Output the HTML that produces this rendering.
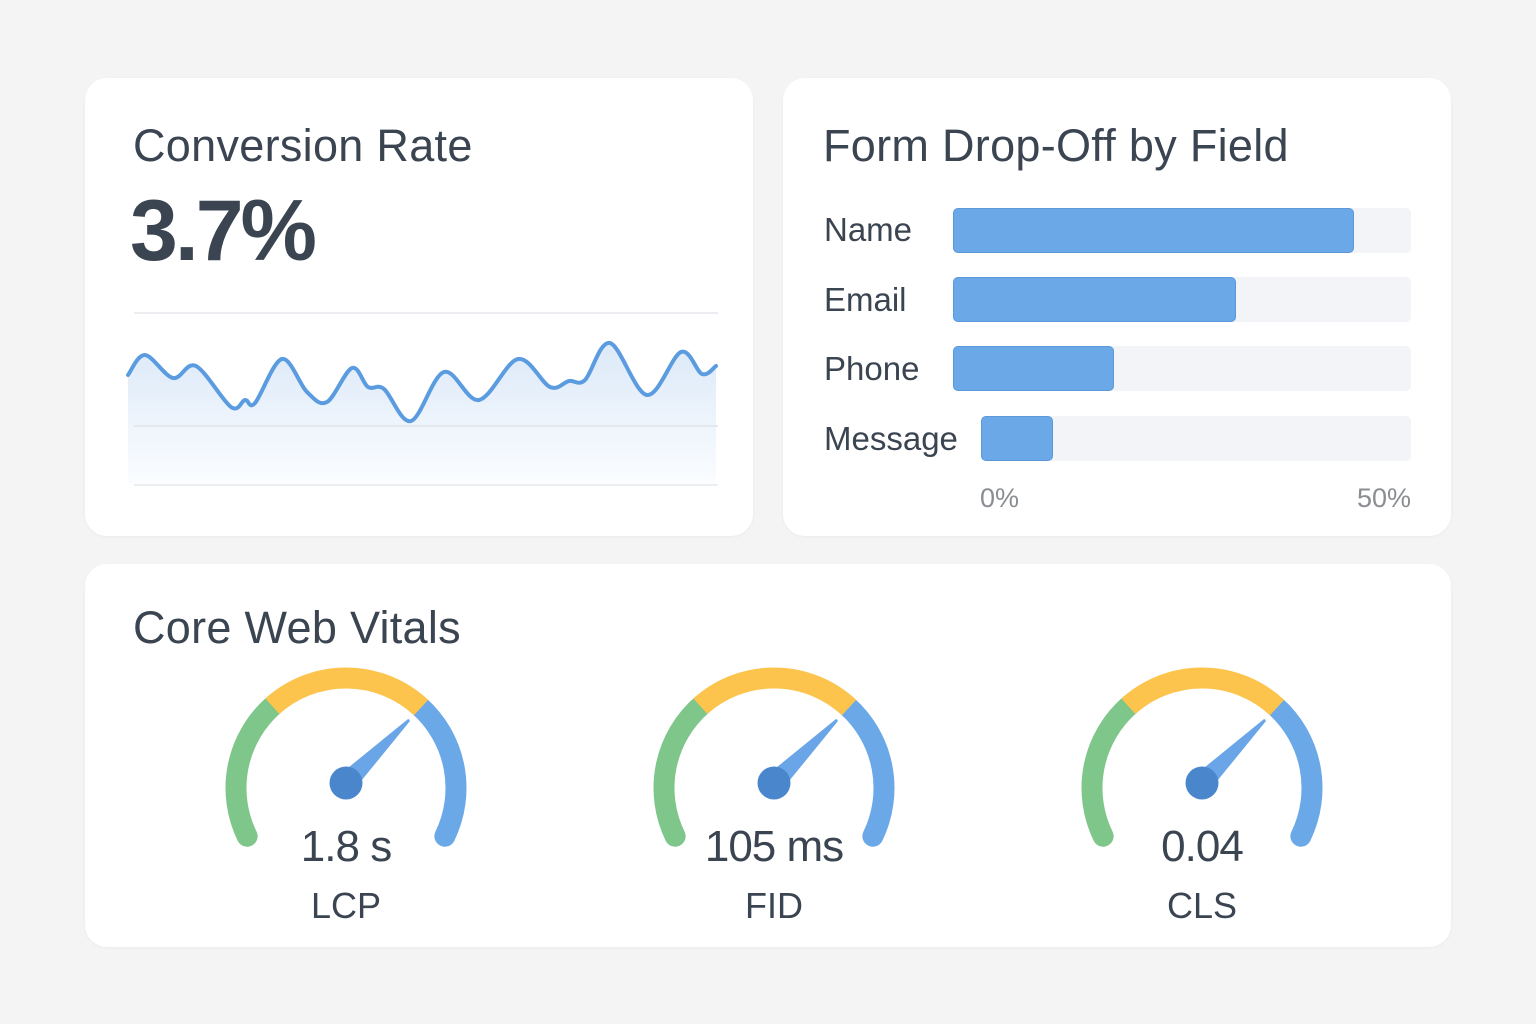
<!DOCTYPE html>
<html><head><meta charset="utf-8"><style>
body{margin:0;width:1536px;height:1024px;background:#f4f4f4;font-family:"Liberation Sans",sans-serif;color:#3b4451;position:relative;overflow:hidden}
.card{position:absolute;background:#fff;border-radius:22px;box-shadow:0 1px 3px rgba(0,0,0,0.04)}
.t{position:absolute;font-size:45px;white-space:nowrap;letter-spacing:0.3px}
.lbl{position:absolute;font-size:33px;left:824px}
.track{position:absolute;left:953px;width:458px;height:45px;background:#f3f4f7;border-radius:5px}
.bar{position:absolute;height:45px;background:#6aa8e8;border-radius:5px;border:1px solid #5b98da;box-sizing:border-box}
</style></head><body>
<div class="card" style="left:85px;top:78px;width:668px;height:458px"></div>
<div class="card" style="left:783px;top:78px;width:668px;height:458px"></div>
<div class="card" style="left:85px;top:564px;width:1366px;height:383px"></div>

<div class="t" style="left:133px;top:120px">Conversion Rate</div>
<div class="t" style="left:130px;top:182px;font-size:86px;font-weight:bold;letter-spacing:-3px">3.7%</div>

<svg style="position:absolute;left:0;top:0" width="1536" height="1024">
<defs><linearGradient id="g" x1="0" y1="0" x2="0" y2="1"><stop offset="0" stop-color="#dce9f8"/><stop offset="1" stop-color="#fbfdff"/></linearGradient></defs>
<line x1="134" y1="313" x2="718" y2="313" stroke="#eceef1" stroke-width="2"/>
<path id="fill" fill="url(#g)"/>
<line x1="134" y1="426" x2="718" y2="426" stroke="#e4e7ec" stroke-width="2"/>
<line x1="134" y1="485" x2="718" y2="485" stroke="#eceef1" stroke-width="2"/>
<path id="line" fill="none" stroke="#5b9be0" stroke-width="4" stroke-linecap="round"/>
<g id="gauges"></g>
</svg>

<div class="t" style="left:823px;top:120px">Form Drop-Off by Field</div>
<div class="lbl" style="top:211px">Name</div>
<div class="lbl" style="top:281px">Email</div>
<div class="lbl" style="top:350px">Phone</div>
<div class="lbl" style="top:420px">Message</div>
<div class="track" style="top:208px"></div><div class="bar" style="top:208px;left:953px;width:401px"></div>
<div class="track" style="top:277px"></div><div class="bar" style="top:277px;left:953px;width:283px"></div>
<div class="track" style="top:346px"></div><div class="bar" style="top:346px;left:953px;width:161px"></div>
<div class="track" style="top:416px;left:981px;width:430px"></div><div class="bar" style="top:416px;left:981px;width:72px"></div>
<div style="position:absolute;left:980px;top:483px;font-size:27px;color:#8a8d92">0%</div>
<div style="position:absolute;right:125px;top:483px;font-size:27px;color:#8a8d92">50%</div>

<div class="t" style="left:133px;top:602px">Core Web Vitals</div>
<div style="position:absolute;left:246px;width:200px;text-align:center;top:822px;font-size:44px;letter-spacing:-1px">1.8 s</div>
<div style="position:absolute;left:674px;width:200px;text-align:center;top:822px;font-size:44px;letter-spacing:-1px">105 ms</div>
<div style="position:absolute;left:1102px;width:200px;text-align:center;top:822px;font-size:44px;letter-spacing:-1px">0.04</div>
<div style="position:absolute;left:246px;width:200px;text-align:center;top:885px;font-size:36px">LCP</div>
<div style="position:absolute;left:674px;width:200px;text-align:center;top:885px;font-size:36px">FID</div>
<div style="position:absolute;left:1102px;width:200px;text-align:center;top:885px;font-size:36px">CLS</div>

<script>
var P=[[128,375],[145,355],[173,378],[196,366],[231,407],[245,400],[255,403],[282,359],[307,392],[327,402],[352,368],[368,387],[384,389],[411,421],[444,372],[479,400],[518,359],[550,387],[569,381],[585,380],[610,343],[647,395],[681,352],[702,374],[716,366]];
var d="M"+P[0][0]+","+P[0][1];
for(var i=0;i<P.length-1;i++){var p0=P[Math.max(i-1,0)],p1=P[i],p2=P[i+1],p3=P[Math.min(i+2,P.length-1)];
d+=" C"+(p1[0]+(p2[0]-p0[0])/6)+","+(p1[1]+(p2[1]-p0[1])/6)+" "+(p2[0]-(p3[0]-p1[0])/6)+","+(p2[1]-(p3[1]-p1[1])/6)+" "+p2[0]+","+p2[1];}
document.getElementById("line").setAttribute("d",d);
document.getElementById("fill").setAttribute("d",d+" L716,485 L128,485 Z");
function pt(cx,cy,r,a){a=a*Math.PI/180;return [cx+r*Math.cos(a),cy-r*Math.sin(a)];}
function arc(cx,cy,r,a1,a2,c,cap){var s=pt(cx,cy,r,a1),e=pt(cx,cy,r,a2);
return '<path d="M'+s[0]+','+s[1]+' A'+r+','+r+' 0 0 1 '+e[0]+','+e[1]+'" fill="none" stroke="'+c+'" stroke-width="21" stroke-linecap="'+cap+'"/>';}
var h="";[346,774,1202].forEach(function(cx){var cy=788,r=110;
h+=arc(cx,cy,r,206,131,"#7ec68a","round")+arc(cx,cy,r,48,-26,"#6aa8e8","round")+arc(cx,cy,r,132,47,"#fcc44c","butt");
var tip=pt(cx,cy-5,88,45),a=pt(cx,cy-5,9,135),b=pt(cx,cy-5,9,-45);
h+='<path d="M'+a[0]+','+a[1]+' L'+tip[0]+','+tip[1]+' L'+b[0]+','+b[1]+' Z" fill="#6aa5e8" stroke="#6aa5e8" stroke-width="3" stroke-linejoin="round"/>';
h+='<circle cx="'+cx+'" cy="'+(cy-5)+'" r="16.5" fill="#4a86cc"/>';});
document.getElementById("gauges").innerHTML=h;
</script>
</body></html>
